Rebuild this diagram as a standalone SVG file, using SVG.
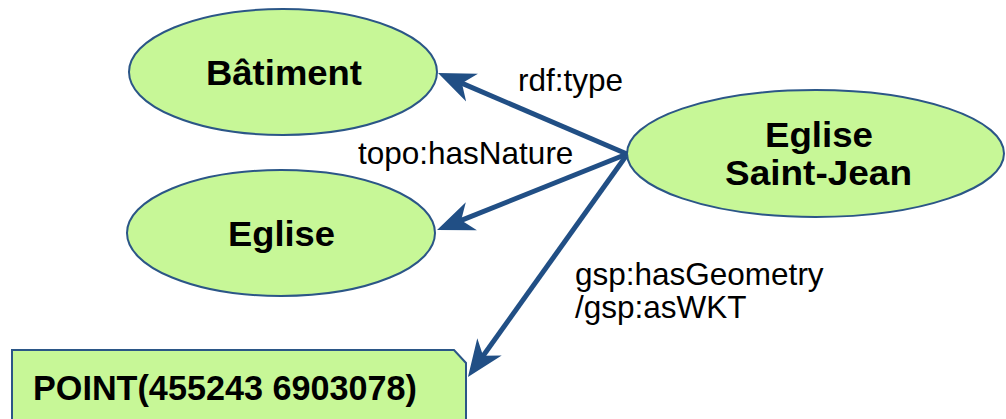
<svg xmlns="http://www.w3.org/2000/svg" width="1006" height="419" viewBox="0 0 1006 419">
<style>
.node{fill:#c7f797;stroke:#2b5687;stroke-width:2}
.bold{font-family:"Liberation Sans",Arial,sans-serif;font-weight:bold;fill:#000}
.lab{font-family:"Liberation Sans",Arial,sans-serif;font-size:31.5px;fill:#000}
.edge{stroke:#214f85;stroke-width:5;fill:none}
</style>
<defs>
<marker id="arr" markerUnits="userSpaceOnUse" viewBox="-20 -16 42 32" markerWidth="42" markerHeight="32" refX="0" refY="0" orient="auto">
<path d="M20,0 L-17,-15 L-6,0 L-17,15 Z" fill="#214f85"/>
</marker>
</defs>
<rect width="1006" height="419" fill="#fff"/>
<g id="batiment">
<ellipse class="node" cx="283" cy="72" rx="154" ry="63"/>
<text class="bold" x="284" y="85" font-size="34.5" text-anchor="middle" textLength="156" lengthAdjust="spacingAndGlyphs">Bâtiment</text>
</g>
<g id="eglise">
<ellipse class="node" cx="281" cy="233" rx="154" ry="63"/>
<text class="bold" x="281.5" y="246" font-size="34.5" text-anchor="middle" textLength="107" lengthAdjust="spacingAndGlyphs">Eglise</text>
</g>
<g id="eglise-saint-jean">
<ellipse class="node" cx="815.5" cy="153.5" rx="188.5" ry="63.5"/>
<text class="bold" x="819" y="147" font-size="34.5" text-anchor="middle" textLength="108" lengthAdjust="spacingAndGlyphs">Eglise</text>
<text class="bold" x="818.5" y="185" font-size="34.5" text-anchor="middle" textLength="187" lengthAdjust="spacingAndGlyphs">Saint-Jean</text>
</g>
<g id="point">
<path class="node" d="M12,350 L454,350 L466,363 L466,430 L12,430 Z"/>
<text class="bold" x="33" y="400" font-size="35" textLength="384" lengthAdjust="spacingAndGlyphs">POINT(455243 6903078)</text>
</g>
<g id="connectors">
<line class="edge" x1="627" y1="154" x2="456.4" y2="80.9" marker-end="url(#arr)"/>
<line class="edge" x1="627" y1="154" x2="455.6" y2="222.6" marker-end="url(#arr)"/>
<line class="edge" x1="626" y1="156" x2="479.6" y2="360.7" marker-end="url(#arr)"/>
<text class="lab" x="518" y="91">rdf:type</text>
<text class="lab" x="358" y="164">topo:hasNature</text>
<text class="lab" x="575" y="285">gsp:hasGeometry</text>
<text class="lab" x="575" y="318">/gsp:asWKT</text>
</g>
</svg>
